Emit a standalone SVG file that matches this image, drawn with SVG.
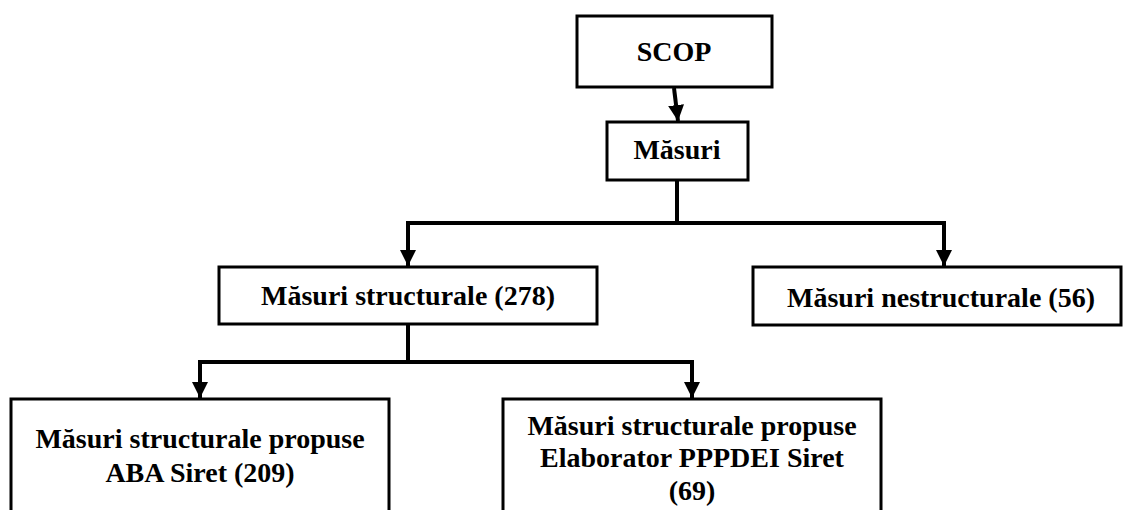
<svg xmlns="http://www.w3.org/2000/svg" width="1123" height="510" viewBox="0 0 1123 510">
<style>
.box{fill:#fff;stroke:#000;stroke-width:3}
.t{font-family:"Liberation Serif","Times New Roman",serif;font-weight:bold;font-size:28px;fill:#000;text-anchor:middle}
.c{fill:none;stroke:#000;stroke-width:4}
</style>
<defs>
<marker id="ah" markerUnits="userSpaceOnUse" markerWidth="18" markerHeight="16" refX="16" refY="8" orient="auto">
<path d="M0,0 L16,8 L0,16 Z" fill="#000"/>
</marker>
</defs>
<rect width="1123" height="510" fill="#fff"/>
<g id="connectors">
<line class="c" x1="674" y1="88" x2="678" y2="121" marker-end="url(#ah)"/>
<polyline class="c" points="677,181 677,223"/>
<polyline class="c" points="677,223 408,223 408,266" marker-end="url(#ah)"/>
<polyline class="c" points="677,223 944,223 944,266" marker-end="url(#ah)"/>
<polyline class="c" points="408,325 408,362"/>
<polyline class="c" points="408,362 200,362 200,398" marker-end="url(#ah)"/>
<polyline class="c" points="408,362 692,362 692,398" marker-end="url(#ah)"/>
</g>
<g id="scop">
<rect class="box" x="577" y="16" width="195" height="71"/>
<text class="t" x="674" y="61">SCOP</text>
</g>
<g id="masuri">
<rect class="box" x="607" y="122" width="141" height="58"/>
<text class="t" x="677" y="159">Măsuri</text>
</g>
<g id="structurale">
<rect class="box" x="219" y="267" width="378" height="57"/>
<text class="t" x="408" y="305">Măsuri structurale (278)</text>
</g>
<g id="nestructurale">
<rect class="box" x="753" y="267" width="368" height="58"/>
<text class="t" x="941" y="307">Măsuri nestructurale (56)</text>
</g>
<g id="aba">
<rect class="box" x="11" y="399" width="378" height="130"/>
<text class="t" x="200" y="448">Măsuri structurale propuse</text>
<text class="t" x="200" y="482">ABA Siret (209)</text>
</g>
<g id="elaborator">
<rect class="box" x="503" y="399" width="378" height="130"/>
<text class="t" x="692" y="435">Măsuri structurale propuse</text>
<text class="t" x="692" y="467">Elaborator PPPDEI Siret</text>
<text class="t" x="692" y="500">(69)</text>
</g>
</svg>
